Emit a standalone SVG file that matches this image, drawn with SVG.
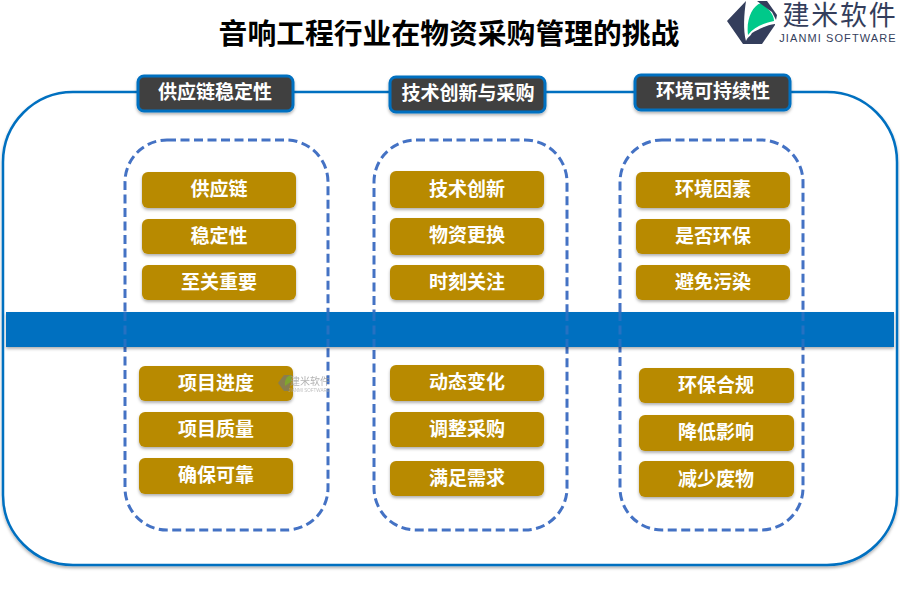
<svg xmlns="http://www.w3.org/2000/svg" width="900" height="600" viewBox="0 0 900 600">
<defs>
<filter id="sh" x="-10%" y="-10%" width="120%" height="130%"><feDropShadow dx="0" dy="2" stdDeviation="1.5" flood-color="#000" flood-opacity="0.3"/></filter>
<style>
text{font-family:"Noto Sans CJK SC","Liberation Sans",sans-serif;text-anchor:middle}
.t{font-size:19px;font-weight:700;fill:#fff}
.g rect{fill:#b88a00;filter:url(#sh)}
.h rect{fill:#404040;stroke:#0070c0;stroke-width:3;filter:url(#sh)}
.d{fill:none;stroke:#4472c4;stroke-width:3;stroke-dasharray:9 4.5}
</style>
</defs>
<rect width="900" height="600" fill="#fff"/>
<text id="title" x="449" y="44" font-size="28.8" font-weight="700" fill="#000">音响工程行业在物资采购管理的挑战</text>
<g id="logo">
<path d="M746 1L727 21L743 44L753 44L762 32C752 34 748 36 746 41C743 30 744 14 746 1Z" fill="#343e5c"/>
<path d="M748 35C746 20 752 6 761 3C768 8 774 14 774 21C764 23 754 27 748 35Z" fill="#00c98a"/>
<path d="M757 1L767 1L777 15L776 20L772 12Z" fill="#343e5c"/>
<path d="M745 44L752 33C760 28 768 25 775 24L775 25L762 44Z" fill="#343e5c"/>
<text x="840" y="25" font-size="27" letter-spacing="1.8" style="font-family:'Liberation Sans','Noto Sans CJK SC',sans-serif" fill="#343e5c">建米软件</text>
<text x="838" y="42" font-size="11" letter-spacing="1.1" style="font-family:'Liberation Sans',sans-serif" fill="#343e5c">JIANMI SOFTWARE</text>
</g>
<g id="frame"><rect x="3" y="92" width="894" height="473" rx="70" ry="70" fill="#fff" stroke="#0070c0" stroke-width="2.5" filter="url(#sh)"/></g>
<g id="panels">
<rect class="d" x="125" y="140" width="203" height="390" rx="42"/>
<rect class="d" x="374" y="140" width="193" height="390" rx="42"/>
<rect class="d" x="620" y="140" width="183" height="390" rx="42"/>
</g>
<g id="band"><rect x="6" y="312" width="888" height="35" fill="#0070c0" filter="url(#sh)"/>
<path d="M125 312V347M328 312V347M374 312V347M567 312V347M620 312V347M803 312V347" stroke="#4472c4" stroke-width="3" stroke-dasharray="9 4.5" opacity=".55"/></g>
<g id="h1" class="h"><rect x="138" y="76" width="155" height="35" rx="6"/><text class="t" x="215" y="99">供应链稳定性</text></g>
<g id="h2" class="h"><rect x="390" y="77" width="155" height="35" rx="6"/><text class="t" x="468" y="100">技术创新与采购</text></g>
<g id="h3" class="h"><rect x="635" y="75" width="155" height="35" rx="6"/><text class="t" x="713" y="98">环境可持续性</text></g>
<g id="n1" class="g"><rect x="142" y="172" width="154" height="36" rx="6"/><text class="t" x="219" y="196">供应链</text></g>
<g id="n2" class="g"><rect x="142" y="219" width="154" height="35" rx="6"/><text class="t" x="219" y="243">稳定性</text></g>
<g id="n3" class="g"><rect x="142" y="265" width="154" height="35" rx="6"/><text class="t" x="219" y="289">至关重要</text></g>
<g id="n4" class="g"><rect x="390" y="171" width="154" height="37" rx="6"/><text class="t" x="467" y="196">技术创新</text></g>
<g id="n5" class="g"><rect x="390" y="218" width="154" height="37" rx="6"/><text class="t" x="467" y="242">物资更换</text></g>
<g id="n6" class="g"><rect x="390" y="265" width="154" height="35" rx="6"/><text class="t" x="467" y="289">时刻关注</text></g>
<g id="n7" class="g"><rect x="636" y="172" width="154" height="36" rx="6"/><text class="t" x="713" y="196">环境因素</text></g>
<g id="n8" class="g"><rect x="636" y="219" width="154" height="35" rx="6"/><text class="t" x="713" y="243">是否环保</text></g>
<g id="n9" class="g"><rect x="636" y="265" width="154" height="35" rx="6"/><text class="t" x="713" y="289">避免污染</text></g>
<g id="n10" class="g"><rect x="139" y="366" width="154" height="35" rx="6"/><text class="t" x="216" y="390">项目进度</text></g>
<g id="n11" class="g"><rect x="139" y="412" width="154" height="35" rx="6"/><text class="t" x="216" y="436">项目质量</text></g>
<g id="n12" class="g"><rect x="139" y="458" width="154" height="36" rx="6"/><text class="t" x="216" y="482">确保可靠</text></g>
<g id="n13" class="g"><rect x="390" y="365" width="154" height="36" rx="6"/><text class="t" x="467" y="389">动态变化</text></g>
<g id="n14" class="g"><rect x="390" y="412" width="154" height="35" rx="6"/><text class="t" x="467" y="436">调整采购</text></g>
<g id="n15" class="g"><rect x="390" y="461" width="154" height="35" rx="6"/><text class="t" x="467" y="485">满足需求</text></g>
<g id="n16" class="g"><rect x="639" y="368" width="155" height="35" rx="6"/><text class="t" x="716" y="392">环保合规</text></g>
<g id="n17" class="g"><rect x="639" y="415" width="155" height="36" rx="6"/><text class="t" x="716" y="439">降低影响</text></g>
<g id="n18" class="g"><rect x="639" y="461" width="155" height="36" rx="6"/><text class="t" x="716" y="486">减少废物</text></g>
<g id="watermark" opacity=".75">
<path d="M284 375L278 383L284 391L289 391L292 375Z" fill="#7a7a6a"/>
<path d="M285 386C284 380 287 376 291 375L292 381Z" fill="#6fae3e"/>
<text x="310" y="385" font-size="10" fill="#999">建米软件</text>
<text x="309" y="392" font-size="4.5" fill="#aaa" style="font-family:'Liberation Sans',sans-serif">JIANMI SOFTWARE</text>
</g>
</svg>
